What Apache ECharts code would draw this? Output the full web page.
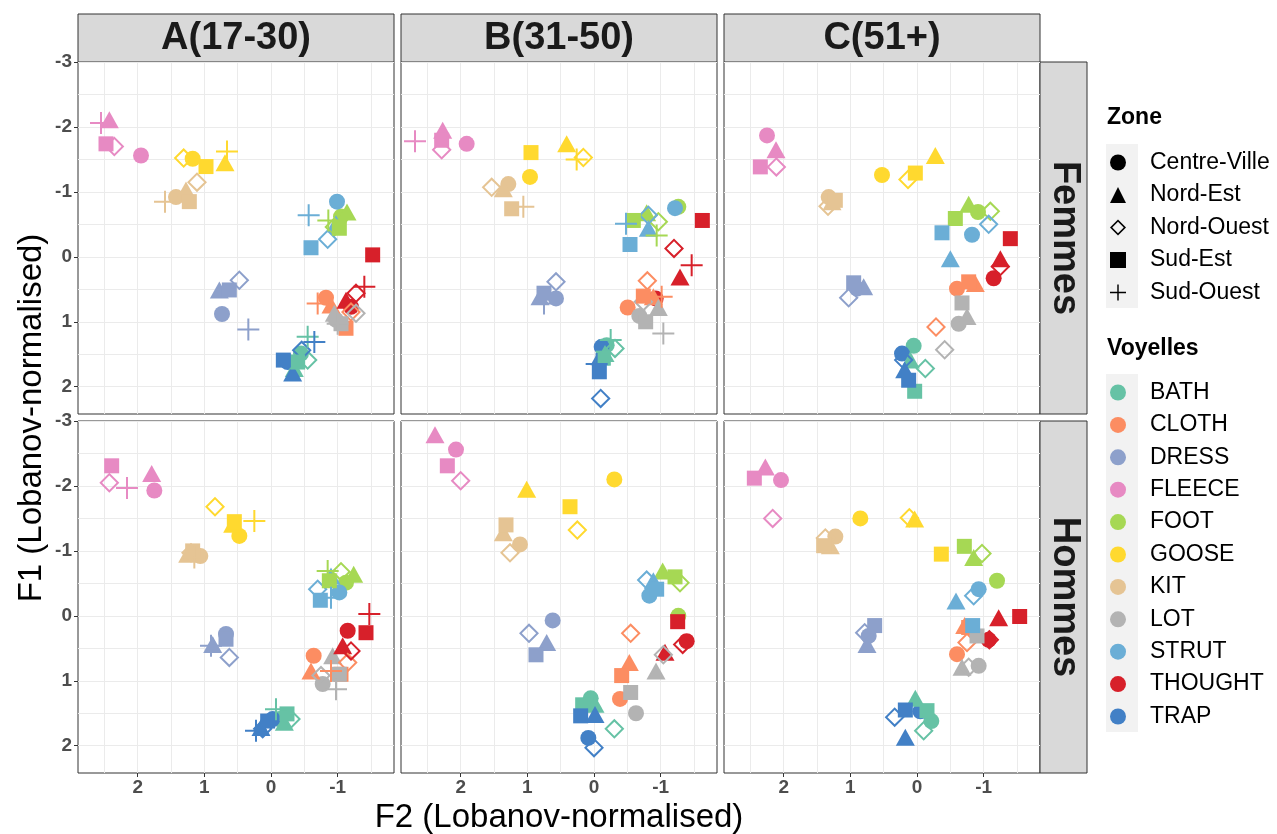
<!DOCTYPE html>
<html>
<head>
<meta charset="utf-8">
<script src="https://cdn.jsdelivr.net/npm/echarts@6/dist/echarts.min.js"></script>
<style>
html, body { margin: 0; padding: 0; background: #fff; }
#chart { width: 1277px; height: 834px; }
</style>
</head>
<body>
<div id="chart"></div>
<script>
var zones = ['Centre-Ville', 'Nord-Est', 'Nord-Ouest', 'Sud-Est', 'Sud-Ouest'];
var vowels = ['BATH', 'CLOTH', 'DRESS', 'FLEECE', 'FOOT', 'GOOSE', 'KIT', 'LOT', 'STRUT', 'THOUGHT', 'TRAP'];
var vowelColors = ['#66c2a5', '#fc8d62', '#8da0cb', '#e78ac3', '#a6d854', '#ffd92f', '#e5c494', '#b3b3b3', '#6baed6', '#d7202a', '#4280c6'];
var ages = ['A(17-30)', 'B(31-50)', 'C(51+)'];
var sexes = ['Femmes', 'Hommes'];
var f2Ticks = [2, 1, 0, -1];
var f1Ticks = [-3, -2, -1, 0, 1, 2];
var f2Grid = [2.5, 2, 1.5, 1, 0.5, 0, -0.5, -1, -1.5];
var f1Grid = [-3, -2.5, -2, -1.5, -1, -0.5, 0, 0.5, 1, 1.5, 2];

// [F2, F1] par voyelle, zones dans l'ordre : Centre-Ville, Nord-Est, Nord-Ouest, Sud-Est, Sud-Ouest
var femmesA = [
    [[-0.45, 1.49], [-0.35, 1.72], [-0.55, 1.59], [-0.4, 1.62], [-0.55, 1.23]],
    [[-0.825, 0.63], [-0.9, 0.74], [-1.2, 0.85], [-1.125, 1.1], [-0.7, 0.72]],
    [[0.735, 0.88], [0.775, 0.51], [0.475, 0.36], [0.625, 0.51], [0.34, 1.12]],
    [[1.95, -1.56], [2.425, -2.11], [2.35, -1.7], [2.475, -1.74], [2.55, -2.06]],
    [[-1.05, -0.62], [-1.14, -0.69], [-0.95, -0.46], [-1.025, -0.44], [-0.86, -0.56]],
    [[1.175, -1.51], [0.69, -1.45], [1.31, -1.52], [0.975, -1.39], [0.66, -1.62]],
    [[1.425, -0.92], [1.275, -1.03], [1.11, -1.15], [1.225, -0.85], [1.59, -0.85]],
    [[-0.975, 0.97], [-0.95, 0.87], [-1.275, 0.87], [-1.05, 1.03], [-1.0, 1.03]],
    [[-0.99, -0.85], [-0.975, -0.51], [-0.85, -0.27], [-0.6, -0.14], [-0.565, -0.64]],
    [[-1.2, 0.77], [-1.125, 0.67], [-1.275, 0.56], [-1.525, -0.03], [-1.4, 0.46]],
    [[-0.25, 1.62], [-0.325, 1.79], [-0.46, 1.44], [-0.185, 1.59], [-0.65, 1.31]]
];
var femmesB = [
    [[-0.19, 1.36], [-0.165, 1.49], [-0.315, 1.41], [-0.14, 1.56], [-0.25, 1.28]],
    [[-0.505, 0.78], [-0.89, 0.615], [-0.8, 0.37], [-0.74, 0.605], [-1.015, 0.615]],
    [[0.57, 0.64], [0.81, 0.615], [0.57, 0.385], [0.75, 0.56], [0.75, 0.72]],
    [[1.91, -1.74], [2.27, -1.95], [2.285, -1.65], [2.285, -1.795], [2.685, -1.78]],
    [[-1.265, -0.77], [-0.79, -0.68], [-0.965, -0.54], [-0.59, -0.56], [-0.94, -0.33]],
    [[0.96, -1.23], [0.41, -1.74], [0.16, -1.53], [0.945, -1.605], [0.26, -1.5]],
    [[1.285, -1.12], [1.36, -1.05], [1.535, -1.07], [1.235, -0.74], [1.06, -0.77]],
    [[-0.68, 0.91], [-0.965, 0.78], [-0.74, 0.69], [-0.775, 1.0], [-1.04, 1.18]],
    [[-1.215, -0.75], [-0.815, -0.44], [-0.815, -0.64], [-0.54, -0.19], [-0.48, -0.51]],
    [[-0.925, 0.64], [-1.29, 0.31], [-1.2, -0.13], [-1.625, -0.56], [-1.465, 0.13]],
    [[-0.115, 1.385], [-0.09, 1.54], [-0.1, 2.18], [-0.08, 1.77], [-0.04, 1.65]]
];
var femmesC = [
    [[0.05, 1.37], [0.1, 1.59], [-0.125, 1.72], [0.035, 2.07]],
    [[-0.6, 0.49], [-0.875, 0.41], [-0.285, 1.08], [-0.775, 0.385]],
    [[0.9, 0.49], [0.8, 0.46], [1.025, 0.63], [0.95, 0.4]],
    [[2.25, -1.87], [2.115, -1.65], [2.11, -1.385], [2.35, -1.385]],
    [[-0.915, -0.69], [-0.775, -0.81], [-1.1, -0.7], [-0.575, -0.59]],
    [[0.525, -1.26], [-0.275, -1.56], [0.135, -1.19], [0.025, -1.29]],
    [[1.325, -0.92], [1.275, -0.85], [1.335, -0.78], [1.225, -0.87]],
    [[-0.625, 1.03], [-0.75, 0.92], [-0.415, 1.43], [-0.675, 0.71]],
    [[-0.825, -0.34], [-0.5, 0.03], [-1.075, -0.5], [-0.375, -0.37]],
    [[-1.15, 0.33], [-1.25, 0.03], [-1.25, 0.15], [-1.4, -0.28]],
    [[0.225, 1.49], [0.185, 1.74], [0.2, 1.59], [0.125, 1.9]]
];
var hommesA = [
    [[-0.125, 1.59], [-0.2, 1.64], [-0.3, 1.59], [-0.24, 1.51], [-0.075, 1.44]],
    [[-0.64, 0.615], [-0.6, 0.85], [-1.15, 0.72], [-1.05, 0.9], [-0.9, 0.85]],
    [[0.675, 0.28], [0.875, 0.44], [0.625, 0.64], [0.675, 0.36], [0.9, 0.46]],
    [[1.75, -1.93], [1.79, -2.19], [2.425, -2.05], [2.39, -2.31], [2.16, -1.97]],
    [[-1.125, -0.51], [-1.24, -0.64], [-1.05, -0.68], [-0.875, -0.54], [-0.85, -0.69]],
    [[0.475, -1.23], [0.575, -1.41], [0.84, -1.68], [0.55, -1.45], [0.25, -1.46]],
    [[1.06, -0.92], [1.25, -0.95], [1.2, -0.97], [1.175, -1.0], [1.15, -0.9]],
    [[-0.775, 1.05], [-0.925, 0.615], [-0.75, 0.92], [-1.025, 0.9], [-0.975, 1.13]],
    [[-1.025, -0.36], [-0.9, -0.615], [-0.7, -0.41], [-0.74, -0.24], [-0.9, -0.28]],
    [[-1.15, 0.23], [-1.075, 0.46], [-1.2, 0.54], [-1.425, 0.26], [-1.475, -0.03]],
    [[-0.025, 1.59], [0.15, 1.72], [0.125, 1.74], [0.05, 1.62], [0.225, 1.77]]
];
var hommesB = [
    [[0.05, 1.27], [-0.015, 1.36], [-0.305, 1.74], [0.17, 1.37]],
    [[-0.39, 1.28], [-0.53, 0.72], [-0.55, 0.27], [-0.415, 0.92]],
    [[0.62, 0.07], [0.71, 0.41], [0.975, 0.27], [0.87, 0.6]],
    [[2.07, -2.56], [2.385, -2.79], [2.0, -2.08], [2.2, -2.31]],
    [[-1.265, 0.0], [-1.03, -0.69], [-1.29, -0.51], [-1.215, -0.6]],
    [[-0.305, -2.1], [1.01, -1.95], [0.25, -1.32], [0.36, -1.68]],
    [[1.11, -1.1], [1.36, -1.28], [1.26, -0.97], [1.32, -1.4]],
    [[-0.63, 1.5], [-0.93, 0.85], [-1.04, 0.6], [-0.55, 1.18]],
    [[-0.83, -0.31], [-0.89, -0.54], [-0.79, -0.55], [-0.94, -0.41]],
    [[-1.39, 0.39], [-1.065, 0.56], [-1.33, 0.44], [-1.255, 0.09]],
    [[0.085, 1.88], [-0.015, 1.52], [0.0, 2.03], [0.2, 1.54]]
];
var hommesC = [
    [[-0.215, 1.62], [0.025, 1.27], [-0.1, 1.77], [-0.15, 1.46]],
    [[-0.6, 0.59], [-0.715, 0.15], [-0.75, 0.41], [-0.775, 0.18]],
    [[0.725, 0.31], [0.75, 0.44], [0.785, 0.26], [0.635, 0.15]],
    [[2.04, -2.09], [2.275, -2.29], [2.165, -1.5], [2.44, -2.12]],
    [[-1.2, -0.54], [-0.85, -0.9], [-0.975, -0.96], [-0.71, -1.07]],
    [[0.85, -1.5], [0.035, -1.49], [0.115, -1.51], [-0.365, -0.95]],
    [[1.225, -1.22], [1.3, -1.08], [1.375, -1.2], [1.4, -1.08]],
    [[-0.925, 0.77], [-0.675, 0.79], [-0.775, 0.79], [-0.9, 0.31]],
    [[-0.925, -0.41], [-0.585, -0.23], [-0.85, -0.31], [-0.835, 0.15]],
    [[-1.075, 0.37], [-1.225, 0.03], [-1.085, 0.37], [-1.54, 0.01]],
    [[-0.05, 1.47], [0.175, 1.87], [0.335, 1.56], [0.175, 1.45]]
];

var panels = [femmesA, femmesB, femmesC, hommesA, hommesB, hommesC];

var font = '"Liberation Sans", Arial, sans-serif';
var colLeft = [78, 401, 724];
var rowTop = [62, 421];
var panelW = 316, panelH = 352;

var zoneSymbols = [
    'circle',
    'triangle',
    'path://M0,-10L10,0L0,10L-10,0Z M0,-7.2L-7.2,0L0,7.2L7.2,0Z',
    'rect',
    'path://M-1,-11H1V-1H11V1H1V11H-1V1H-11V-1H-1Z'
];
var zoneSizes = [16, [19, 17], 20, 15, 22];

var grids = [], xAxes = [], yAxes = [], series = [];

for (var p = 0; p < 6; p++) {
    var r = Math.floor(p / 3), c = p % 3;
    grids.push({
        left: colLeft[c], top: rowTop[r], width: panelW, height: panelH,
        show: true, backgroundColor: '#fff', borderColor: '#333', borderWidth: 1
    });
    xAxes.push({
        type: 'value', gridIndex: p, min: -1.845, max: 2.895, inverse: true, position: 'top',
        axisLine: {show: false, onZero: false}, axisLabel: {show: false},
        axisTick: {show: false, customValues: f2Grid},
        splitLine: {show: true, lineStyle: {color: '#ebebeb', width: 1}}
    });
    yAxes.push({
        type: 'value', gridIndex: p, min: -3.0, max: 2.42, inverse: true, position: 'right',
        axisLine: {show: false, onZero: false}, axisLabel: {show: false},
        axisTick: {show: false, customValues: f1Grid},
        splitLine: {show: true, lineStyle: {color: '#ebebeb', width: 1}}
    });

    //un nuage par zone
    for (var z = 0; z < 5; z++) {
        var pts = [];
        for (var v = 0; v < vowels.length; v++) {
            var pt = panels[p][v][z];
            if (pt) {
                pts.push({value: pt, itemStyle: {color: vowelColors[v]}});
            }
        }
        if (!pts.length) continue;
        series.push({
            type: 'scatter', name: zones[z], xAxisIndex: p, yAxisIndex: p,
            symbol: zoneSymbols[z], symbolSize: zoneSizes[z],
            itemStyle: {color: '#000', opacity: 1},
            silent: true, data: pts
        });
    }
}

//axes avec graduations : en bas et a gauche
var tickLabel = {fontFamily: font, fontWeight: 'bold', fontSize: 19, color: '#4d4d4d'};
for (var c2 = 0; c2 < 3; c2++) {
    xAxes.push({
        type: 'value', gridIndex: 3 + c2, min: -1.845, max: 2.895, inverse: true, position: 'bottom',
        axisLine: {show: false, onZero: false}, splitLine: {show: false},
        axisTick: {show: true, length: 4, customValues: f2Ticks, lineStyle: {color: '#333'}},
        axisLabel: Object.assign({customValues: f2Ticks, margin: 5}, tickLabel)
    });
}
[0, 3].forEach(function (g) {
    yAxes.push({
        type: 'value', gridIndex: g, min: -3.0, max: 2.42, inverse: true, position: 'left',
        axisLine: {show: false, onZero: false}, splitLine: {show: false},
        axisTick: {show: true, length: 4, customValues: f1Ticks, lineStyle: {color: '#333'}},
        axisLabel: Object.assign({customValues: f1Ticks, margin: 6}, tickLabel)
    });
});

//series vides pour la legende des voyelles
vowels.forEach(function (name, i) {
    series.push({type: 'scatter', name: name, xAxisIndex: 0, yAxisIndex: 0, symbol: 'circle', itemStyle: {color: vowelColors[i], opacity: 1}, data: []});
});

//bandeaux, titres
var graphics = [];
ages.forEach(function (t, i) {
    graphics.push({type: 'rect', shape: {x: colLeft[i], y: 14, width: panelW, height: 48}, style: {fill: '#d9d9d9', stroke: '#333', lineWidth: 1}});
    graphics.push({type: 'text', x: colLeft[i] + panelW / 2, y: 39, style: {text: t, font: 'bold 38px ' + font, fill: '#1a1a1a', align: 'center', verticalAlign: 'middle'}});
});
sexes.forEach(function (t, i) {
    graphics.push({type: 'rect', shape: {x: 1040, y: rowTop[i], width: 47, height: panelH}, style: {fill: '#d9d9d9', stroke: '#333', lineWidth: 1}});
    graphics.push({type: 'text', x: 1064, y: rowTop[i] + panelH / 2, rotation: -Math.PI / 2, style: {text: t, font: 'bold 38px ' + font, fill: '#1a1a1a', align: 'center', verticalAlign: 'middle'}});
});
graphics.push({type: 'text', x: 559, y: 818, style: {text: 'F2 (Lobanov-normalised)', font: '33px ' + font, fill: '#000', align: 'center', verticalAlign: 'middle'}});
graphics.push({type: 'text', x: 32, y: 418, rotation: Math.PI / 2, style: {text: 'F1 (Lobanov-normalised)', font: '33px ' + font, fill: '#000', align: 'center', verticalAlign: 'middle'}});
graphics.push({type: 'text', x: 1107, y: 118, style: {text: 'Zone', font: 'bold 23px ' + font, fill: '#000', align: 'left', verticalAlign: 'middle'}});
graphics.push({type: 'text', x: 1107, y: 349, style: {text: 'Voyelles', font: 'bold 23px ' + font, fill: '#000', align: 'left', verticalAlign: 'middle'}});
graphics.push({type: 'rect', z: -1, shape: {x: 1106, y: 144, width: 32, height: 164}, style: {fill: '#f2f2f2'}});
graphics.push({type: 'rect', z: -1, shape: {x: 1106, y: 374, width: 32, height: 358}, style: {fill: '#f2f2f2'}});

var legendText = {fontFamily: font, fontSize: 23, color: '#000', lineHeight: 20, padding: [0, 0, 0, 19]};

var myChart = echarts.init(document.getElementById('chart'));
myChart.setOption({
    animation: false,
    backgroundColor: '#fff',
    grid: grids,
    xAxis: xAxes,
    yAxis: yAxes,
    graphic: graphics,
    legend: [{
        data: zones, orient: 'vertical', left: 1110, top: 151, padding: 0,
        itemWidth: 16, itemHeight: 16, itemGap: 9.5, selectedMode: false,
        textStyle: legendText
    }, {
        data: vowels, orient: 'vertical', left: 1110, top: 381, padding: 0,
        itemWidth: 16, itemHeight: 16, itemGap: 9.4, selectedMode: false,
        textStyle: legendText
    }],
    series: series
});
</script>
</body>
</html>
